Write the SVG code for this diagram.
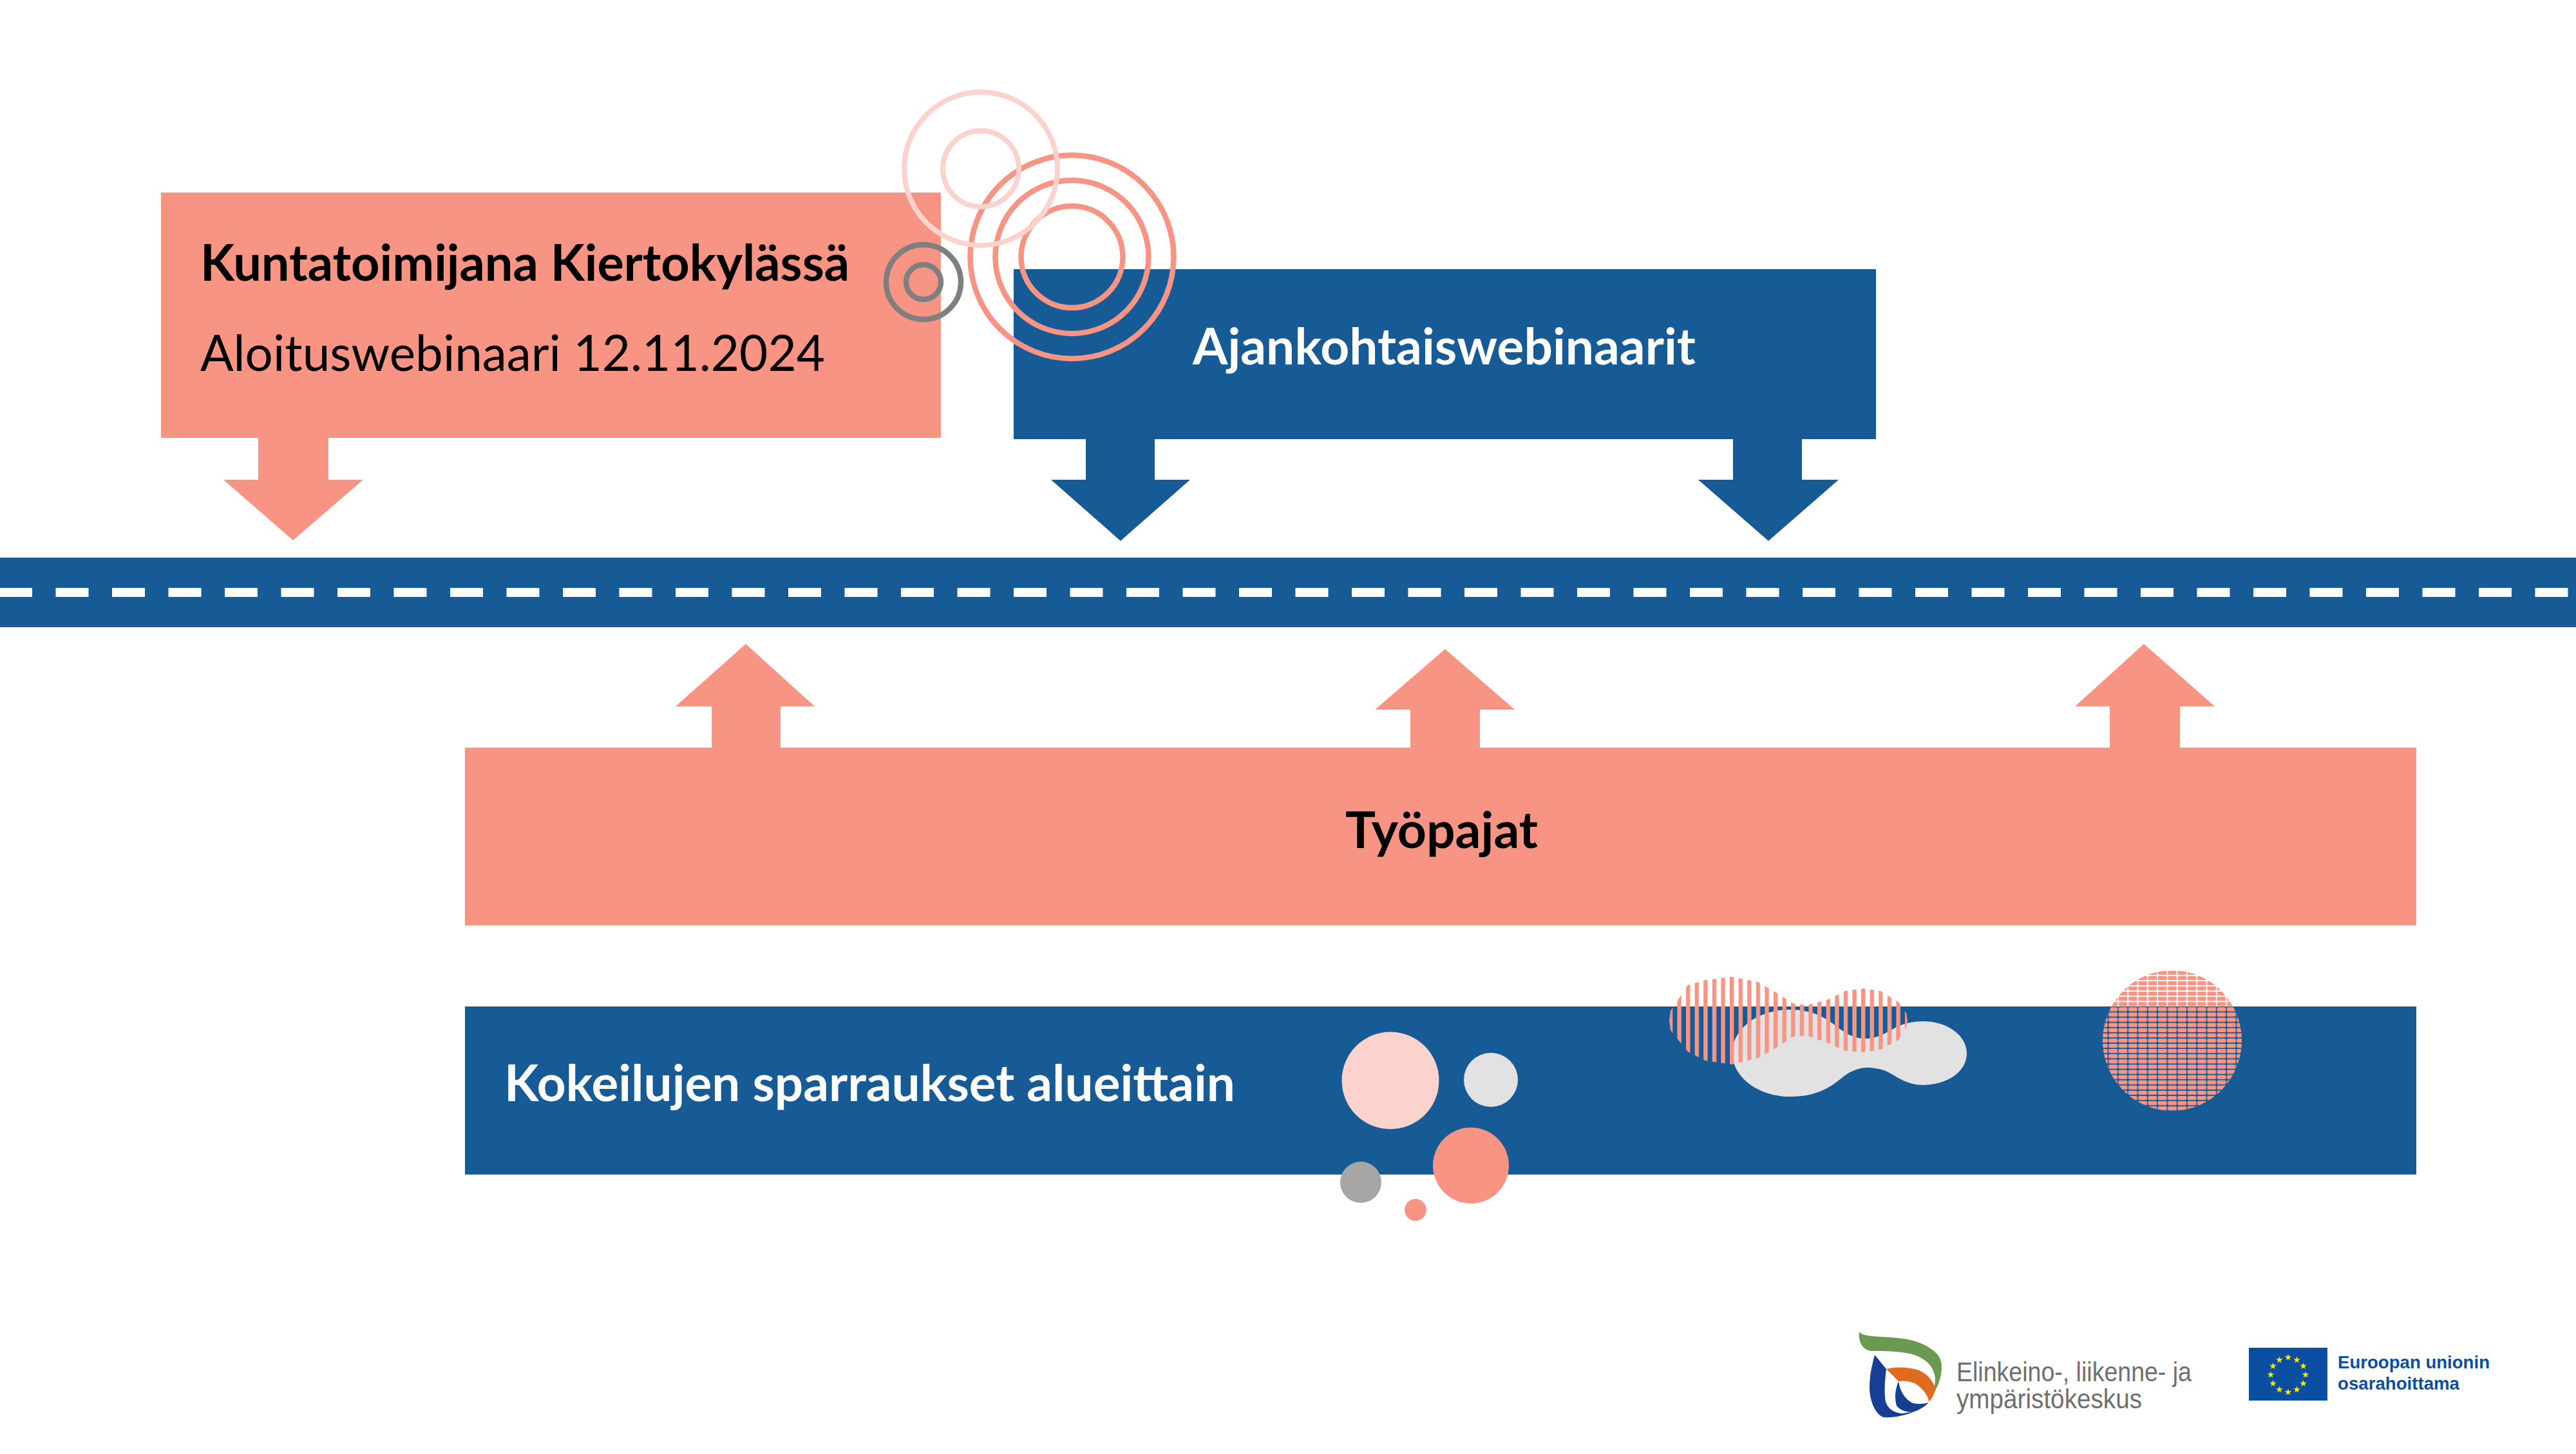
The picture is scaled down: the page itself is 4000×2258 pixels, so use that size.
<svg xmlns="http://www.w3.org/2000/svg" width="4000" height="2258" viewBox="0 0 4000 2258">
<style>
.salmon{fill:#F79484}
.blue{fill:#165B96}
.ring{fill:none}
.s{stroke:#F79484;stroke-width:8.5}
.p{stroke:#FBD2CC;stroke-width:8}
.g{stroke:#7F7F7F;stroke-width:8.5}
text{font-family:"Lato","Liberation Sans",sans-serif}
.h{font-size:78px;font-weight:700}
.n{font-size:78px;font-weight:400}
.w{fill:#fff}
.k{fill:#000}
.ely{font-family:"Liberation Sans",Arial,sans-serif;font-size:42px;fill:#6F6F6F}
.eu{font-family:"Liberation Sans",Arial,sans-serif;font-size:28px;font-weight:700;fill:#0B4EA2}
</style>
<defs>
<pattern id="stripes" patternUnits="userSpaceOnUse" x="2590.8" y="0" width="13.6" height="20"><rect x="0" y="0" width="6.4" height="20" fill="#F79484"/></pattern>
<pattern id="dots" patternUnits="userSpaceOnUse" x="3365.35" y="1506.65" width="15.3" height="8.1"><rect x="0.7" y="0.95" width="13.9" height="6.2" rx="2" fill="#F79484"/></pattern>
<polygon id="star" points="0,-5.6 1.3,-1.8 5.3,-1.7 2.1,.7 3.3,4.5 0,2.2 -3.3,4.5 -2.1,.7 -5.3,-1.7 -1.3,-1.8" fill="#FFED00"/>
</defs>
<rect width="4000" height="2258" fill="#fff"/>
<g id="road">
<rect class="blue" x="0" y="866" width="4000" height="108"/>
<line x1="-1" y1="920" x2="4000" y2="920" stroke="#fff" stroke-width="14" stroke-dasharray="51 36.5"/>
</g>
<g id="node-kuntatoimijana">
<rect class="salmon" x="250" y="299" width="1211" height="381"/>
<text class="h k" x="311" y="436" textLength="1008" lengthAdjust="spacingAndGlyphs">Kuntatoimijana Kiertokylässä</text>
<text class="n k" x="311" y="576" textLength="970" lengthAdjust="spacingAndGlyphs">Aloituswebinaari 12.11.2024</text>
</g>
<g id="node-ajankohtais">
<rect class="blue" x="1574" y="418" width="1339" height="264"/>
<text class="h w" x="1852" y="566" textLength="781" lengthAdjust="spacingAndGlyphs">Ajankohtaiswebinaarit</text>
</g>
<g id="node-tyopajat">
<rect class="salmon" x="722" y="1161" width="3030" height="276"/>
<text class="h k" x="2089" y="1317" textLength="299" lengthAdjust="spacingAndGlyphs">Työpajat</text>
</g>
<g id="node-kokeilujen">
<rect class="blue" x="722" y="1563" width="3030" height="261"/>
<text class="h w" x="783" y="1710" textLength="1135" lengthAdjust="spacingAndGlyphs">Kokeilujen sparraukset alueittain</text>
</g>
<g id="connectors">
<polygon class="salmon" points="401,680 510,680 510,745 564,745 455,839 347,745 401,745"/>
<polygon class="blue" points="1686,681 1793,681 1793,745 1848,745 1740,840 1632,745 1686,745"/>
<polygon class="blue" points="2691,681 2798,681 2798,745 2855,745 2746,840 2637,745 2691,745"/>
<polygon class="salmon" points="1105,1161 1212,1161 1212,1097 1265,1097 1158,1000 1049,1097 1105,1097"/>
<polygon class="salmon" points="2190,1161 2298,1161 2298,1102 2352,1102 2244,1008 2135,1102 2190,1102"/>
<polygon class="salmon" points="3276,1161 3385,1161 3385,1097 3439,1097 3329,1000 3222,1097 3276,1097"/>
</g>
<g id="deco-rings">
<circle class="ring s" cx="1664.5" cy="399" r="158"/>
<circle class="ring s" cx="1664.5" cy="399" r="119"/>
<circle class="ring s" cx="1664.5" cy="399" r="79"/>
<circle class="ring p" cx="1523" cy="262" r="119"/>
<circle class="ring p" cx="1523" cy="262" r="59"/>
<circle class="ring g" cx="1434" cy="438" r="58"/>
<circle class="ring g" cx="1434" cy="438" r="27"/>
</g>
<g id="deco-dots">
<circle cx="2159" cy="1678" r="75.5" fill="#FBD2CC"/>
<circle cx="2315" cy="1677" r="42" fill="#E2E2E2"/>
<circle class="salmon" cx="2284" cy="1810" r="59"/>
<circle cx="2113" cy="1836" r="32" fill="#A6A6A6"/>
<circle class="salmon" cx="2198" cy="1879" r="17"/>
</g>
<g id="deco-blobs">
<path fill="#E2E2E2" d="M2690,1636C2690,1597 2730,1568 2779,1568C2825,1568 2845,1590 2860,1600C2872,1609 2885,1613 2897,1613C2915,1613 2930,1603 2945,1595C2957,1589 2972,1586 2986,1586C3024,1586 3054,1608 3054,1636C3054,1664 3024,1685 2986,1685C2962,1685 2945,1672 2932,1665C2922,1660 2910,1658 2899,1658C2885,1658 2870,1665 2860,1674C2840,1690 2820,1703 2779,1703C2730,1703 2690,1672 2690,1636Z"/>
<path fill="url(#stripes)" d="M2592,1585L2594,1570 2620.5,1530 2648,1522 2689,1517 2730,1525 2757,1541 2784,1558 2805,1561 2839,1552 2865,1539 2893,1535 2920,1539 2948,1556 2960,1573 2962,1585 2960,1595 2948,1615 2920,1630 2893,1634 2865,1632 2839,1620 2805,1608 2784,1610 2757,1628 2730,1643 2689,1653 2648,1647 2620.5,1633 2594,1600Z"/>
<ellipse fill="url(#dots)" cx="3373" cy="1616" rx="108" ry="109"/>
</g>
<g id="logo-ely">
<path fill="#6B994F" d="M2887,2068C2890,2073 2900,2075 2920,2076C2945,2077 2965,2079 2980,2085C3002,2094 3015,2105 3015,2122C3015,2145 3005,2160 2995,2177C3003,2160 3007,2145 3004,2135C3000,2117 2985,2107 2965,2102C2945,2098 2925,2098 2905,2098C2893,2096 2885,2085 2887,2068Z"/>
<path fill="#E06A1E" d="M2929,2126C2945,2122 2965,2123 2980,2128C2995,2135 3003,2147 3005,2157C3004,2165 3000,2172 2995,2177C2995,2168 2985,2155 2973,2148C2962,2144 2955,2144 2948,2145Z"/>
<path fill="#153F92" d="M2911,2104L2929,2126C2926,2150 2926,2165 2928,2177C2932,2190 2945,2195 2955,2195L2972,2192C2960,2198 2940,2202 2925,2201C2912,2197 2903,2175 2903,2155C2903,2135 2907,2120 2911,2104Z"/>
<path fill="#153F92" d="M2948,2145C2942,2160 2942,2172 2945,2183C2950,2190 2960,2193 2970,2193C2980,2190 2988,2185 2995,2178C2985,2181 2975,2181 2968,2178C2958,2172 2950,2160 2948,2145Z"/>
</g>
<g id="logo-text">
<text class="ely" x="3038" y="2145" textLength="365" lengthAdjust="spacingAndGlyphs">Elinkeino-, liikenne- ja</text>
<text class="ely" x="3038" y="2187" textLength="288" lengthAdjust="spacingAndGlyphs">ympäristökeskus</text>
</g>
<g id="logo-eu">
<rect x="3492" y="2093" width="122" height="82" fill="#0A4EA2"/>
<use href="#star" x="3553" y="2108"/><use href="#star" x="3566.5" y="2112"/><use href="#star" x="3576.5" y="2121.5"/><use href="#star" x="3580" y="2135"/><use href="#star" x="3576.5" y="2148.5"/><use href="#star" x="3566.5" y="2158"/><use href="#star" x="3553" y="2162"/><use href="#star" x="3539.5" y="2158"/><use href="#star" x="3529.5" y="2148.5"/><use href="#star" x="3526" y="2135"/><use href="#star" x="3529.5" y="2121.5"/><use href="#star" x="3539.5" y="2112"/>
<text class="eu" x="3630" y="2125" textLength="236" lengthAdjust="spacingAndGlyphs">Euroopan unionin</text>
<text class="eu" x="3630" y="2158" textLength="189" lengthAdjust="spacingAndGlyphs">osarahoittama</text>
</g>
</svg>
